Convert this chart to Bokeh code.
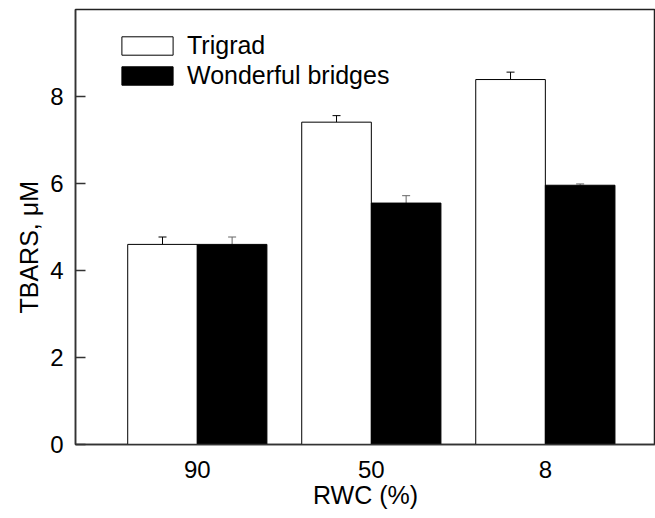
from bokeh.plotting import figure
from bokeh.models import (ColumnDataSource, FixedTicker, Legend, LegendItem,
                          Whisker, TeeHead, Range1d, Title)
from bokeh.embed import file_html
from bokeh.resources import INLINE

# ---- data ----
categories = ["90", "50", "8"]
trigrad = [4.60, 7.41, 8.39]
trigrad_err = [0.17, 0.15, 0.17]
wonderful = [4.60, 5.55, 5.96]
wonderful_err = [0.17, 0.17, 0.03]
y_ticks = [0, 2, 4, 6, 8]

FONT = "Liberation Sans"
bar_w = 0.4
pos = list(range(1, len(categories) + 1))

x_t = [p - bar_w / 2 for p in pos]
x_w = [p + bar_w / 2 for p in pos]

src_t = ColumnDataSource(dict(x=x_t, top=trigrad,
                              upper=[v + e for v, e in zip(trigrad, trigrad_err)]))
src_w = ColumnDataSource(dict(x=x_w, top=wonderful,
                              upper=[v + e for v, e in zip(wonderful, wonderful_err)]))

p = figure(width=655, height=518, output_backend="svg", toolbar_location=None,
           x_range=Range1d(0.3, 3.633), y_range=Range1d(0, 10),
           min_border_left=75, min_border_right=0, min_border_top=9,
           min_border_bottom=74)
p.grid.visible = False
p.outline_line_color = "#222222"
p.outline_line_width = 1.5
p.background_fill_color = "white"
p.border_fill_color = "white"

r_t = p.vbar(x="x", top="top", width=bar_w, source=src_t,
             fill_color="white", line_color="black", line_width=1)
r_w = p.vbar(x="x", top="top", width=bar_w, source=src_w,
             fill_color="black", line_color="black", line_width=1)

for src, col in ((src_t, "black"), (src_w, "#666666")):
    wk = Whisker(base="x", lower="top", upper="upper", source=src,
                 line_color=col, line_width=1,
                 upper_head=TeeHead(size=8, line_color=col, line_width=1),
                 lower_head=None)
    p.add_layout(wk)

# axes
p.xaxis.ticker = FixedTicker(ticks=pos)
p.xaxis.major_label_overrides = {pp: c for pp, c in zip(pos, categories)}
p.xaxis.minor_tick_line_color = None
p.xaxis.axis_label = "RWC (%)"
p.xaxis.major_label_standoff = 10
p.xaxis.axis_label_standoff = 0

p.yaxis.ticker = FixedTicker(ticks=y_ticks)
p.yaxis.major_tick_in = 10
p.yaxis.major_tick_out = 0
p.yaxis.minor_tick_line_color = None
p.yaxis.major_label_standoff = 12

for ax in (p.xaxis[0], p.yaxis[0]):
    ax.axis_line_color = "#333333"
    ax.axis_line_width = 1.5
    ax.major_tick_line_color = "#333333" if ax is p.yaxis[0] else None
    ax.major_tick_line_width = 1.5
    ax.major_label_text_font = FONT
    ax.major_label_text_font_size = "24px"
    ax.major_label_text_color = "black"
    ax.axis_label_text_font = FONT
    ax.axis_label_text_font_size = "25px"
    ax.axis_label_text_font_style = "normal"
    ax.axis_label_text_color = "black"

# y axis title, set a little below the frame centre as in the reference
ytitle = Title(text="TBARS, μM", align="left", offset=131, standoff=10,
               text_font=FONT, text_font_size="25px",
               text_font_style="normal", text_color="black")
p.add_layout(ytitle, "left")

legend = Legend(items=[LegendItem(label="Trigrad", renderers=[r_t]),
                       LegendItem(label="Wonderful bridges", renderers=[r_w])],
                location=(40, 354), orientation="vertical",
                glyph_width=64, glyph_height=23, label_height=23,
                label_standoff=8, spacing=1, padding=0, margin=0,
                border_line_color=None, background_fill_alpha=0,
                label_text_font=FONT, label_text_font_size="25px",
                label_text_color="black")
p.add_layout(legend, "center")

open("out.html", "w").write(file_html(p, INLINE))
